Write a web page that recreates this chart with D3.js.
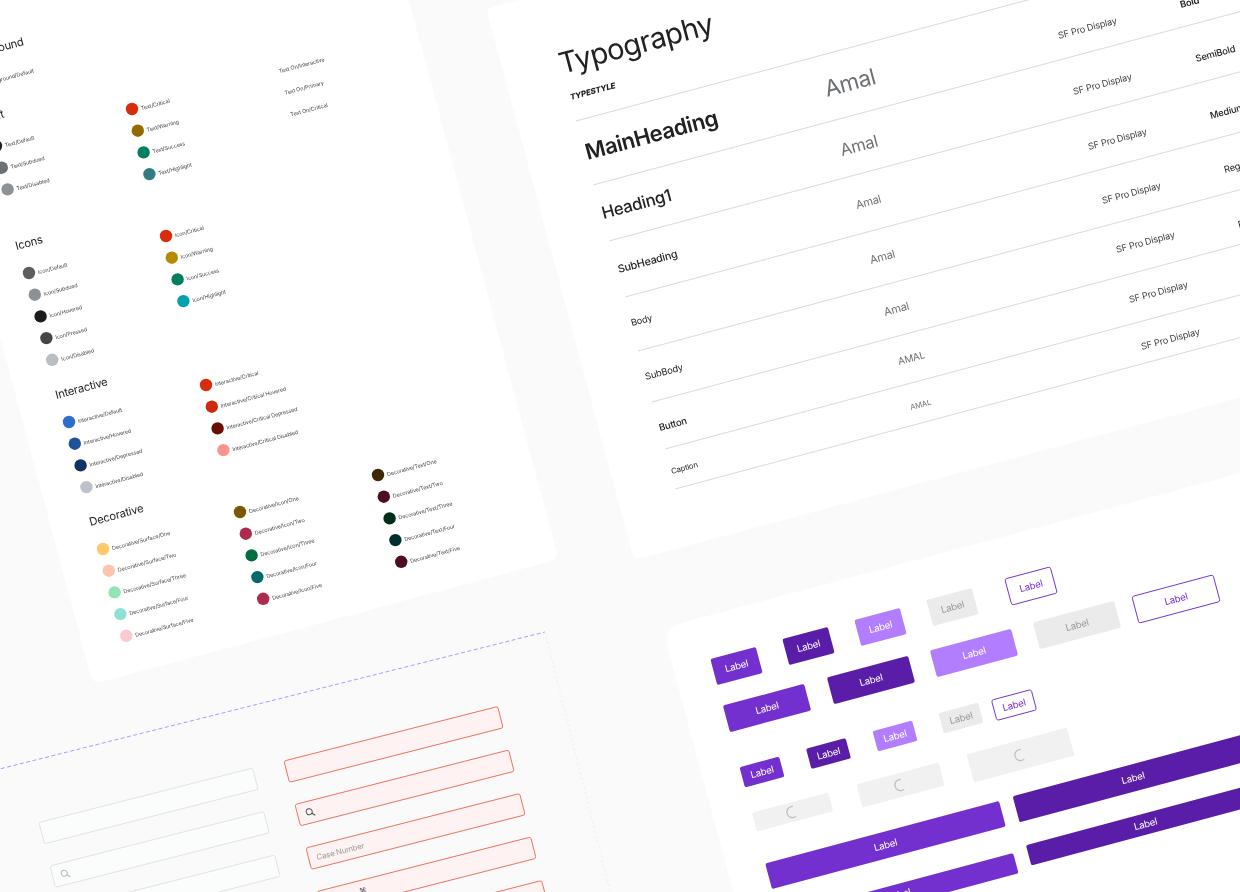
<!DOCTYPE html>
<html><head><meta charset="utf-8">
<script src="https://cdn.jsdelivr.net/npm/d3@7"></script>
<style>html,body{margin:0;padding:0;background:#fafafa;overflow:hidden}
svg{display:block;filter:blur(.4px)}text{font-family:Inter,"Noto Sans",sans-serif;letter-spacing:-.02em}</style></head>
<body><svg id="c" width="1240" height="892"></svg>
<script>
// ---- content ----
const paletteGroups=[
 {title:"Background",names:["Background/Default"],colors:["#f6f6f7"]},
 {title:"Text",names:["Text/Default","Text/Subdued","Text/Disabled"],colors:["#202223","#6d7175","#8c9196"]},
 {title:"",names:["Text/Critical","Text/Warning","Text/Success","Text/Highlight"],colors:["#d72c0d","#916a00","#008060","#347c84"]},
 {title:"",names:["Text On/Interactive","Text On/Primary","Text On/Critical"],colors:["#ffffff","#ffffff","#ffffff"]},
 {title:"Icons",names:["Icon/Default","Icon/Subdued","Icon/Hovered","Icon/Pressed","Icon/Disabled"],colors:["#5c5f62","#8c9196","#1a1c1d","#44474a","#babec3"]},
 {title:"",names:["Icon/Critical","Icon/Warning","Icon/Success","Icon/Highlight"],colors:["#d82c0d","#b98900","#007f5f","#00a0ac"]},
 {title:"Interactive",names:["Interactive/Default","Interactive/Hovered","Interactive/Depressed","Interactive/Disabled"],colors:["#2c6ecb","#1f5199","#103262","#bdc1cc"]},
 {title:"",names:["Interactive/Critical","Interactive/Critical Hovered","Interactive/Critical Depressed","Interactive/Critical Disabled"],colors:["#d82c0d","#cd290c","#670f03","#fd938d"]},
 {title:"Decorative",names:["Decorative/Surface/One","Decorative/Surface/Two","Decorative/Surface/Three","Decorative/Surface/Four","Decorative/Surface/Five"],colors:["#ffc96b","#ffc4b0","#92e6b5","#91e0d6","#fdc9d0"]},
 {title:"",names:["Decorative/Icon/One","Decorative/Icon/Two","Decorative/Icon/Three","Decorative/Icon/Four","Decorative/Icon/Five"],colors:["#7e5700","#ae2b4c","#006d41","#006a68","#ae2b4c"]},
 {title:"",names:["Decorative/Text/One","Decorative/Text/Two","Decorative/Text/Three","Decorative/Text/Four","Decorative/Text/Five"],colors:["#3d2800","#4e0e1f","#002f19","#002d2d","#4f0e1f"]}
];
const typeTitle="Typography", typeHeader="TYPESTYLE";
const typeStyles=["MainHeading","Heading1","SubHeading","Body","SubBody","Button","Caption"];
const typeSamples=["Amal","Amal","Amal","Amal","Amal","AMAL","AMAL"];
const typeFamilies=["SF Pro Display","SF Pro Display","SF Pro Display","SF Pro Display","SF Pro Display","SF Pro Display","SF Pro Display"];
const typeWeights=["Bold","SemiBold","Medium","Regular","Regular"];
const buttonLabel="Label";
const buttonKinds=["primary","pressed","light","disabled","outline"];
const placeholder="Case Number";

// ---- layout ----
const svg=d3.select("#c"), ANG=-15;
const at=(x,y,a=ANG)=>`translate(${x},${y}) rotate(${a})`;
const kindFill={primary:"#7430cf",pressed:"#5a1da8",light:"#b27dff",disabled:"#ebebeb",outline:"#fff",loader:"#f1f1f1"};
const kindText={primary:"#fff",pressed:"#fff",light:"#fff",disabled:"#9a9a9a",outline:"#7430cf"};
function txt(g,x,y,s,size,o={}){return g.append("text").attr("transform",at(x,y,o.a??ANG)).attr("font-size",size)
  .attr("font-weight",o.w||400).attr("font-style",o.i||null).attr("fill",o.c||"#202223").attr("text-anchor",o.anchor||"start").text(s)}

// cards
const cards=[{x:93,y:684,lx:0,ly:-900,w:482,h:900,r:8},{x:634,y:560,lx:0,ly:-571,w:1000,h:571,r:6},{x:662.5,y:628,lx:0,ly:0,w:1000,h:600,r:16}];
svg.selectAll("rect.card").data(cards).join("rect").attr("class","card").attr("transform",d=>at(d.x,d.y))
  .attr("x",d=>d.lx).attr("y",d=>d.ly).attr("width",d=>d.w).attr("height",d=>d.h).attr("rx",d=>d.r).attr("fill","#fff");

// palette
const paletteAnchors=[[-23,84],[-4,146],[132,109],[270,72],[29,273],[166,236],[69,422],[206,385],[103,549],[240,512],[378,475]];
const rowDx=d3.scaleLinear().domain([0,1]).range([0,5.8]), rowDy=d3.scaleLinear().domain([0,1]).range([0,21.7]);
const pal=svg.append("g");
paletteGroups.forEach((grp,i)=>{
  const [ax,ay]=paletteAnchors[i];
  if(grp.title) txt(pal,ax-12.5,ay-23,grp.title,11.3,{c:"#1c1c1c"});
  grp.names.forEach((n,j)=>{
    const x=ax+rowDx(j),y=ay+rowDy(j);
    pal.append("circle").attr("cx",x).attr("cy",y).attr("r",6.2).attr("fill",grp.colors[j]);
    txt(pal,x+9.5,y+1.2,n,5.45,{c:"#454545"});
  });
});

// typography
const ty=svg.append("g");
txt(ty,562,74,typeTitle,29);
txt(ty,571,100,typeHeader,8,{w:800,i:"italic"});
const ruleAnchors=[[576,121],[593,185],[609,241],[625,297],[638,351],[652,402],[665,449],[675,489]];
ty.selectAll("line").data(ruleAnchors).join("line").attr("transform",d=>at(d[0],d[1])).attr("x1",0).attr("x2",900).attr("stroke","#d4d4d4").attr("stroke-width",.8);
const styleAnchors=[[587.5,160,22,600],[603.5,219,16.8,500],[619,273,10.8,500],[632,326,9.1,400],[646,380,9.4,400],[660,431,9.5,500],[672,474,7.7,400]];
typeStyles.forEach((s,i)=>{const a=styleAnchors[i];txt(ty,a[0],a[1],s,a[2],{w:a[3]})});
const sampleAnchors=[[827,97,22.6],[842,156,16.6],[857,209,11.2],[871,264,11.2],[885,316,11.2],[899,365,9.9],[911,410,7.7]];
typeSamples.forEach((s,i)=>{const a=sampleAnchors[i];txt(ty,a[0],a[1],s,a[2],{c:"#6d7175"})});
const familyAnchors=[[1059,39],[1074,95],[1089,150],[1103,204],[1117,253],[1130,303],[1142,350]];
typeFamilies.forEach((s,i)=>{const a=familyAnchors[i];txt(ty,a[0],a[1],s,9.2,{c:"#3c3f42"})});
const weightAnchors=[[1181,8,600],[1196.5,62,500],[1211,119,500],[1225,173,400],[1239,228,400]];
typeWeights.forEach((s,i)=>{const a=weightAnchors[i];txt(ty,a[0],a[1],s,9.4,{w:a[2],c:"#202223"})});

// inputs
const frameA=-14.1, fieldA=-14.3;
const fr=svg.append("g");
const frameCorner=[545,632];
fr.append("line").attr("transform",at(frameCorner[0],frameCorner[1],frameA)).attr("x1",-600).attr("x2",0).attr("stroke","#9d8cff").attr("stroke-dasharray","4 2.5").attr("stroke-width",.8);
fr.append("line").attr("transform",at(frameCorner[0],frameCorner[1],frameA)).attr("y1",0).attr("y2",300).attr("stroke","#e6e3ff").attr("stroke-dasharray","2 3").attr("stroke-width",.7);
const inputAnchors=[{x:39,y:822.5,t:"grey"},{x:50,y:866,t:"grey",icon:1},{x:61,y:909.5,t:"grey"},{x:284,y:761,t:"red"},{x:295,y:804.5,t:"red",icon:1},{x:306,y:848,t:"red",ph:1},{x:317,y:891.5,t:"red",glyph:1},{x:328,y:935,t:"red"}];
inputAnchors.forEach(f=>{
  const g=fr.append("g").attr("transform",at(f.x,f.y,fieldA));
  const red=f.t==="red";
  g.append("rect").attr("width",220.5).attr("height",22).attr("rx",2).attr("fill",red?"#fef3f2":"#fbfcfc").attr("stroke",red?"#e8705e":"#e0e1e2").attr("stroke-width",.9);
  if(f.icon){const c=red?"#50545a":"#b5b8bb";
    g.append("circle").attr("cx",12).attr("cy",10.5).attr("r",3).attr("fill","none").attr("stroke",c).attr("stroke-width",1);
    g.append("line").attr("x1",14.2).attr("y1",12.7).attr("x2",17).attr("y2",15.5).attr("stroke",c).attr("stroke-width",1.2);}
  if(f.ph) g.append("text").attr("x",8).attr("y",14.5).attr("font-size",7.8).attr("fill","#9a9a9a").text(placeholder);
  if(f.glyph) g.append("text").attr("x",41).attr("y",13).attr("font-size",7.5).attr("fill","#50545a").text("⌘");
});

// buttons
const bt=svg.append("g");
const arc=d3.arc().innerRadius(5).outerRadius(6.2).startAngle(Math.PI*.85).endAngle(Math.PI*2.1);
function button(cx,cy,w,h,kind,label=true){
  const g=bt.append("g").attr("transform",at(cx,cy));
  g.append("rect").attr("x",-w/2).attr("y",-h/2).attr("width",w).attr("height",h).attr("rx",2)
   .attr("fill",kindFill[kind]).attr("stroke",kind==="outline"?"#7430cf":null).attr("stroke-width",.9);
  if(label) g.append("text").attr("text-anchor","middle").attr("y",3.4).attr("font-size",9.6).attr("fill",kindText[kind]).text(buttonLabel);
  else g.append("path").attr("d",arc()).attr("fill","#bcbec1");
}
const rowSets=[
 {pts:[[736.5,666],[808.5,646],[880.5,627],[952.5,607],[1031,586]],w:47,h:27},
 {pts:[[767,708],[871,680],[974,653],[1077,625],[1176,599]],w:84,h:27.5},
 {pts:[[762,772],[828.5,753.5],[895,736],[961,718],[1014,705]],w:41,h:21}];
rowSets.forEach(r=>r.pts.forEach((p,i)=>button(p[0],p[1],r.w,r.h,buttonKinds[i])));
[[792.5,812,79,19.5],[900.5,785,85,24],[1020.5,755,104,29]].forEach(p=>button(p[0],p[1],p[2],p[3],"loader",false));
[[885.5,845,242,26.5,"primary"],[1133,778,242,27,"pressed"],[899,894.5,242,21,"primary"],[1145.5,824,242,21,"pressed"]].forEach(p=>button(p[0],p[1],p[2],p[3],p[4]));
</script></body></html>
